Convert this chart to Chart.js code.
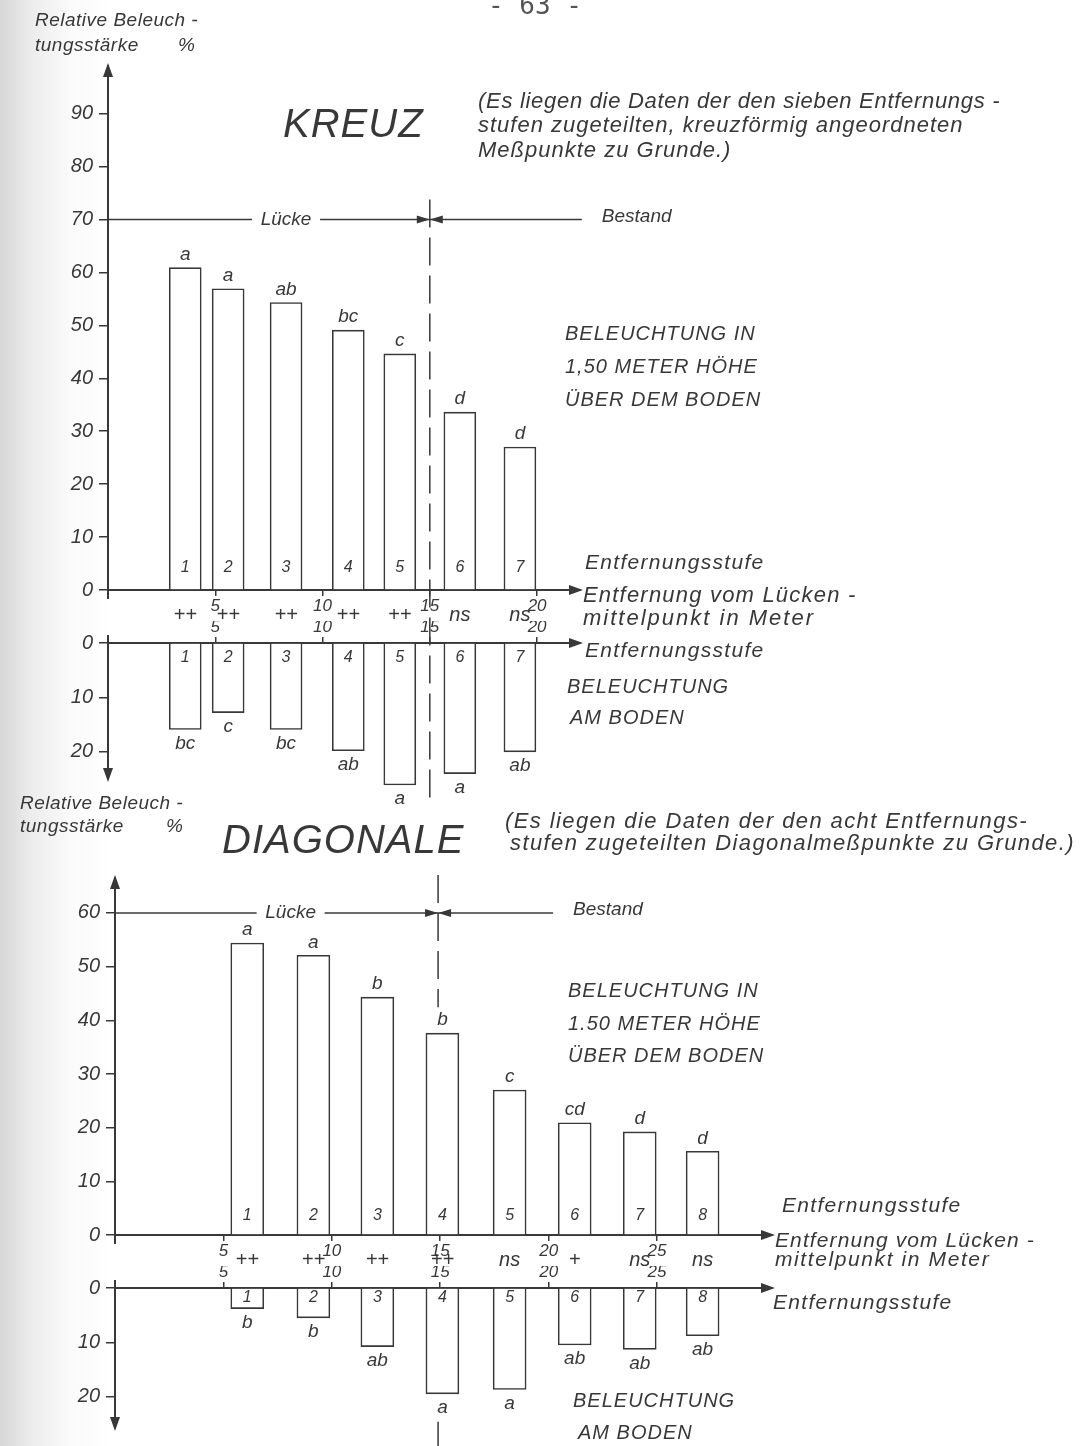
<!DOCTYPE html>
<html>
<head>
<meta charset="utf-8">
<script src="https://cdn.jsdelivr.net/npm/chart.js@4.4.0/dist/chart.umd.min.js"></script>
<style>
  body {
    margin: 0; width: 1087px; height: 1446px; position: relative; overflow: hidden;
    background: linear-gradient(to right, #d6d6d6 0, #ececec 30px, #fafafa 70px, #fff 110px);
    font-family: "Liberation Sans", Arial, sans-serif; font-style: italic; color: #383838;
  }
  canvas { position: absolute; left: 0; top: 0; }
  .t { position: absolute; white-space: nowrap; line-height: 1; }
  .caps { font-size: 20px; letter-spacing: 1px; }
  .big { font-size: 40px; font-style: italic; letter-spacing: 1px; }
  .note { font-size: 22px; letter-spacing: 1px; }
  .ax { font-size: 19px; letter-spacing: 0.5px; }
  .stufe { font-size: 21px; letter-spacing: 1.3px; }
  .ent { font-size: 22px; letter-spacing: 1.2px; }
</style>
</head>
<body>
<canvas id="kreuzOben" width="1087" height="1446"></canvas>
<canvas id="kreuzBoden" width="1087" height="1446"></canvas>
<canvas id="diagOben" width="1087" height="1446"></canvas>
<canvas id="diagBoden" width="1087" height="1446"></canvas>

<div class="t" style="left:488px;top:-8px;font-size:26px;font-style:normal;font-family:'DejaVu Sans Mono';color:#555">- 63 -</div>

<div class="t ax" style="left:35px;top:10px">Relative Beleuch -</div>
<div class="t ax" style="left:35px;top:35px">tungsstärke</div>
<div class="t ax" style="left:178px;top:35px">%</div>
<div class="t big" style="left:283px;top:103px">KREUZ</div>
<div class="t note" style="left:478px;top:90px;letter-spacing:0.7px">(Es liegen die Daten der den sieben Entfernungs -</div>
<div class="t note" style="left:478px;top:114px">stufen zugeteilten, kreuzförmig angeordneten</div>
<div class="t note" style="left:478px;top:139px">Meßpunkte zu Grunde.)</div>
<div class="t caps" style="left:565px;top:323px">BELEUCHTUNG IN</div>
<div class="t caps" style="left:565px;top:356px">1,50 METER HÖHE</div>
<div class="t caps" style="left:565px;top:389px">ÜBER DEM BODEN</div>
<div class="t stufe" style="left:585px;top:551px">Entfernungsstufe</div>
<div class="t ent" style="left:583px;top:584px">Entfernung vom Lücken -</div>
<div class="t ent" style="left:583px;top:607px;letter-spacing:2px">mittelpunkt in Meter</div>
<div class="t stufe" style="left:585px;top:639px">Entfernungsstufe</div>
<div class="t caps" style="left:567px;top:676px">BELEUCHTUNG</div>
<div class="t caps" style="left:570px;top:707px">AM BODEN</div>

<div class="t ax" style="left:20px;top:793px">Relative Beleuch -</div>
<div class="t ax" style="left:20px;top:816px">tungsstärke</div>
<div class="t ax" style="left:166px;top:816px">%</div>
<div class="t big" style="left:222px;top:819px">DIAGONALE</div>
<div class="t note" style="left:505px;top:810px;letter-spacing:1.4px">(Es liegen die Daten der den acht Entfernungs-</div>
<div class="t note" style="left:510px;top:832px;letter-spacing:1.4px">stufen zugeteilten Diagonalmeßpunkte zu Grunde.)</div>
<div class="t caps" style="left:568px;top:980px">BELEUCHTUNG IN</div>
<div class="t caps" style="left:568px;top:1013px">1.50 METER HÖHE</div>
<div class="t caps" style="left:568px;top:1045px">ÜBER DEM BODEN</div>
<div class="t stufe" style="left:782px;top:1194px">Entfernungsstufe</div>
<div class="t ent" style="left:775px;top:1229px;font-size:21px;letter-spacing:1.1px">Entfernung vom Lücken -</div>
<div class="t ent" style="left:775px;top:1248px;font-size:21px;letter-spacing:1.6px">mittelpunkt in Meter</div>
<div class="t stufe" style="left:773px;top:1291px">Entfernungsstufe</div>
<div class="t caps" style="left:573px;top:1390px">BELEUCHTUNG</div>
<div class="t caps" style="left:578px;top:1422px">AM BODEN</div>

<script>
const INK = '#383838';
const FONT = '"Liberation Sans", Arial, sans-serif';

// KREUZ
const kreuzStufen = ['1', '2', '3', '4', '5', '6', '7'];
const kreuzMeter = [3.6, 5.6, 8.3, 11.2, 13.6, 16.4, 19.2];
const kreuzHoehe = [60.9, 56.9, 54.3, 49.1, 44.6, 33.6, 27.0];
const kreuzHoeheSig = ['a', 'a', 'ab', 'bc', 'c', 'd', 'd'];
const kreuzBoden = [15.9, 12.8, 15.9, 19.8, 26.1, 24.0, 20.0];
const kreuzBodenSig = ['bc', 'c', 'bc', 'ab', 'a', 'a', 'ab'];
const kreuzTest = ['++', '++', '++', '++', '++', 'ns', 'ns'];

// DIAGONALE
const diagStufen = ['1', '2', '3', '4', '5', '6', '7', '8'];
const diagMeter = [6.1, 9.15, 12.1, 15.1, 18.2, 21.2, 24.2, 27.1];
const diagHoehe = [54.4, 52.1, 44.3, 37.6, 27.0, 20.9, 19.2, 15.6];
const diagHoeheSig = ['a', 'a', 'b', 'b', 'c', 'cd', 'd', 'd'];
const diagBoden = [3.8, 5.5, 10.8, 19.5, 18.7, 10.5, 11.3, 8.8];
const diagBodenSig = ['b', 'b', 'ab', 'a', 'a', 'ab', 'ab', 'ab'];
const diagTest = ['++', '++', '++', '++', 'ns', '+', 'ns', 'ns'];

// tick labels
const meterTicks = [5, 10, 15, 20, 25];
const kreuzObenTicks = [0, 10, 20, 30, 40, 50, 60, 70, 80, 90];
const diagObenTicks = [0, 10, 20, 30, 40, 50, 60];
const bodenTicks = [0, 10, 20];

function arrow(ctx, x, y, dx, dy, L = 14, W = 5) {
  ctx.beginPath();
  ctx.moveTo(x, y);
  ctx.lineTo(x - dx * L - dy * W, y - dy * L + dx * W);
  ctx.lineTo(x - dx * L + dy * W, y - dy * L - dx * W);
  ctx.closePath();
  ctx.fill();
}

function line(ctx, x1, y1, x2, y2) {
  ctx.beginPath(); ctx.moveTo(x1, y1); ctx.lineTo(x2, y2); ctx.stroke();
}

function panelPlugin(c) {
  return {
    id: 'panel',
    afterDatasetsDraw(chart) {
      const ctx = chart.ctx, a = chart.chartArea, xs = chart.scales.x, ys = chart.scales.y;
      const bars = chart.getDatasetMeta(0).data;
      const zeroY = ys.getPixelForValue(0);
      ctx.save();
      ctx.fillStyle = INK; ctx.strokeStyle = INK;

      // Lücke / Bestand and the dashed border line
      if (c.split) {
        const xm = xs.getPixelForValue(c.split);
        const hit = bars.find(b => Math.abs(b.x - xm) < b.width / 2 + 3);
        ctx.lineWidth = 1.5;
        if (c.marker) {
          const m = c.marker;
          const my = ys.getPixelForValue(m.value);
          const xt = xs.getPixelForValue(m.textAt);
          line(ctx, a.left, my, xt - 34, my);
          line(ctx, xt + 34, my, xm, my);
          line(ctx, xm, my, xm + m.len, my);
          arrow(ctx, xm, my, 1, 0, 13, 4);
          arrow(ctx, xm, my, -1, 0, 13, 4);
          ctx.font = 'italic 19px ' + FONT;
          ctx.textBaseline = 'middle';
          ctx.textAlign = 'center';
          ctx.fillText('Lücke', xt, my);
          ctx.textAlign = 'left';
          ctx.fillText('Bestand', xm + m.len + 20, my - 3);
          ctx.setLineDash([28, 10]);
          line(ctx, xm, my - m.dashUp, xm, hit ? hit.y - 26 : a.bottom + m.dashDown);
        } else if (hit) {
          ctx.setLineDash([28, 10]);
          line(ctx, xm, hit.y + 28, xm, c.dashEnd);
        }
        ctx.setLineDash([]);
      }

      // axis arrows and short axis stubs past the zero line
      ctx.lineWidth = 2;
      arrow(ctx, a.right + 3, zeroY, 1, 0);
      if (c.down) {
        arrow(ctx, a.left, a.bottom + 3, 0, 1);
        line(ctx, a.left, zeroY - 8, a.left, zeroY);
      } else {
        arrow(ctx, a.left, a.top - 3, 0, -1);
        line(ctx, a.left, zeroY, a.left, zeroY + 9);
      }

      // numbers, significance letters, test results
      ctx.textAlign = 'center'; ctx.textBaseline = 'middle';
      bars.forEach((b, i) => {
        ctx.font = 'italic 16px ' + FONT;
        ctx.fillText(c.stufen[i], b.x, zeroY + (c.down ? c.numOff : -c.numOff));
        ctx.font = 'italic 19px ' + FONT;
        ctx.fillText(c.sig[i], b.x, b.y + (c.down ? 14 : -13));
        if (c.test) {
          ctx.font = 'italic 20px ' + FONT;
          ctx.fillText(c.test[i], b.x, zeroY + 25);
        }
      });
      ctx.restore();
    }
  };
}

function panel(id, c) {
  const W = 1087, H = 1446, yW = 55, xH = 22;
  const pad = {
    left: c.area.l - yW,
    right: W - c.area.r,
    top: c.down ? c.area.t - xH : c.area.t,
    bottom: c.down ? H - c.area.b : H - c.area.b - xH
  };
  return new Chart(document.getElementById(id), {
    type: 'bar',
    data: {
      datasets: [{
        data: c.meter.map((m, i) => ({ x: m, y: c.values[i] })),
        backgroundColor: '#ffffff',
        borderColor: INK,
        borderWidth: 1.6,
        barThickness: c.barW,
        clip: false
      }]
    },
    options: {
      responsive: false,
      animation: false,
      layout: { padding: pad },
      plugins: { legend: { display: false }, tooltip: { enabled: false } },
      scales: {
        x: {
          type: 'linear', min: 0, max: c.xMax, offset: false,
          position: c.down ? 'top' : 'bottom',
          grid: { drawOnChartArea: false, offset: false, tickLength: 6, color: INK, lineWidth: 1.5 },
          border: { color: INK, width: 2 },
          ticks: { color: INK, font: { family: FONT, size: 17, style: 'italic' }, padding: 0, maxRotation: 0 },
          afterBuildTicks: s => { s.ticks = meterTicks.filter(v => v < c.xMax).map(v => ({ value: v })); },
          afterFit: s => { s.height = xH; }
        },
        y: {
          min: 0, max: c.yMax, reverse: !!c.down,
          grid: { drawOnChartArea: false, tickLength: 9, color: INK, lineWidth: 1.5 },
          border: { color: INK, width: 2 },
          ticks: { color: INK, font: { family: FONT, size: 20, style: 'italic' }, padding: 6 },
          afterBuildTicks: s => { s.ticks = c.yTicks.map(v => ({ value: v })); },
          afterFit: s => { s.width = yW; }
        }
      }
    },
    plugins: [panelPlugin(c)]
  });
}

panel('kreuzOben', {
  stufen: kreuzStufen, meter: kreuzMeter, values: kreuzHoehe, sig: kreuzHoeheSig, test: kreuzTest,
  yTicks: kreuzObenTicks, xMax: 22, yMax: 99, barW: 32, numOff: 22,
  area: { l: 108, r: 580, t: 66, b: 590 },
  split: 15,
  marker: { value: 70, textAt: 8.3, len: 152, dashUp: 20, dashDown: 215 }
});
panel('kreuzBoden', {
  down: true, stufen: kreuzStufen, meter: kreuzMeter, values: kreuzBoden, sig: kreuzBodenSig,
  yTicks: bodenTicks, xMax: 22, yMax: 25, barW: 32, numOff: 15,
  area: { l: 108, r: 580, t: 643, b: 779 },
  split: 15, dashEnd: 805
});
panel('diagOben', {
  stufen: diagStufen, meter: diagMeter, values: diagHoehe, sig: diagHoeheSig, test: diagTest,
  yTicks: diagObenTicks, xMax: 30.3, yMax: 66.5, barW: 33, numOff: 19,
  area: { l: 115, r: 772, t: 878, b: 1235 },
  split: 14.9,
  marker: { value: 60, textAt: 8.1, len: 115, dashUp: 38, dashDown: 215 }
});
panel('diagBoden', {
  down: true, stufen: diagStufen, meter: diagMeter, values: diagBoden, sig: diagBodenSig,
  yTicks: bodenTicks, xMax: 30.3, yMax: 25.8, barW: 33, numOff: 10,
  area: { l: 115, r: 772, t: 1288, b: 1430 },
  split: 14.9, dashEnd: 1446
});
</script>
</body>
</html>
